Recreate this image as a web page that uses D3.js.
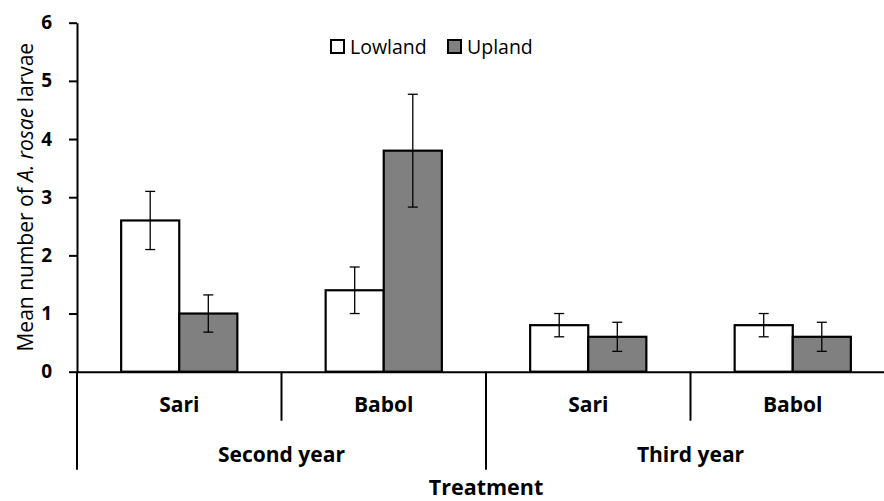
<!DOCTYPE html>
<html>
<head>
<meta charset="utf-8">
<script src="https://cdn.jsdelivr.net/npm/d3@7"></script>
<style>
  body { margin: 0; background: #fff; }
  svg { display: block; font-family: "Open Sans", sans-serif; }
</style>
</head>
<body>
<div id="chart"></div>
<script>
// data
const years = ["Second year", "Third year"];
const sites = ["Sari", "Babol"];
const series = ["Lowland", "Upland"];
const lowlandMean = [2.6, 1.4, 0.8, 0.8];
const lowlandSE = [0.5, 0.4, 0.2, 0.2];
const uplandMean = [1.0, 3.8, 0.6, 0.6];
const uplandSE = [0.32, 0.97, 0.25, 0.25];
const yTicks = [0, 1, 2, 3, 4, 5, 6];
const colors = {Lowland: "#ffffff", Upland: "#808080"};

const W = 884, H = 501;
const plotLeft = 77, plotRight = 895, plotTop = 22.7, base = 371.7;

const svg = d3.select("#chart").append("svg")
  .attr("width", W).attr("height", H);

// one group per year/site pair
const groups = [];
years.forEach(function(yr) {
  sites.forEach(function(s) { groups.push({year: yr, site: s, key: yr + "|" + s}); });
});

const rows = [];
groups.forEach(function(g, i) {
  rows.push({key: g.key, s: "Lowland", v: lowlandMean[i], e: lowlandSE[i]});
  rows.push({key: g.key, s: "Upland", v: uplandMean[i], e: uplandSE[i]});
});

const x0 = d3.scaleBand().domain(groups.map(d => d.key)).range([plotLeft, plotRight]);
const x1 = d3.scaleBand().domain(series).range([0, x0.bandwidth()])
  .paddingInner(0).paddingOuter(0.76);
const y = d3.scaleLinear().domain([0, 6]).range([base, plotTop]);

// y axis
const yAxis = svg.append("g")
  .attr("transform", "translate(" + plotLeft + ",0)")
  .call(d3.axisLeft(y).tickValues(yTicks).tickFormat(d3.format("d"))
    .tickSize(8).tickPadding(17).tickSizeOuter(0));
yAxis.select(".domain").attr("stroke", "#000").attr("stroke-width", 2);
yAxis.selectAll(".tick line").attr("stroke", "#000").attr("stroke-width", 2);
yAxis.selectAll(".tick text")
  .style("font-family", "Open Sans").style("font-size", "19px")
  .style("font-weight", "bold").attr("fill", "#000");

// bars
svg.selectAll("rect.bar")
  .data(rows)
  .join("rect")
  .attr("class", "bar")
  .attr("x", d => x0(d.key) + x1(d.s))
  .attr("y", d => y(d.v))
  .attr("width", x1.bandwidth())
  .attr("height", d => y(0) - y(d.v))
  .attr("fill", d => colors[d.s])
  .attr("stroke", "#000")
  .attr("stroke-width", 2.2);

// error bars
const eb = svg.selectAll("g.err")
  .data(rows)
  .join("g")
  .attr("class", "err")
  .attr("transform", d => "translate(" + (x0(d.key) + x1(d.s) + x1.bandwidth() / 2) + ",0)");
eb.append("line")
  .attr("y1", d => y(d.v + d.e)).attr("y2", d => y(d.v - d.e))
  .attr("stroke", "#000").attr("stroke-width", 1.3);
eb.append("line")
  .attr("x1", -5).attr("x2", 5)
  .attr("y1", d => y(d.v + d.e)).attr("y2", d => y(d.v + d.e))
  .attr("stroke", "#000").attr("stroke-width", 1.3);
eb.append("line")
  .attr("x1", -5).attr("x2", 5)
  .attr("y1", d => y(d.v - d.e)).attr("y2", d => y(d.v - d.e))
  .attr("stroke", "#000").attr("stroke-width", 1.3);

// x axis line
const xAxis = svg.append("g")
  .attr("transform", "translate(0," + base + ")")
  .call(d3.axisBottom(x0).tickSize(0).tickSizeOuter(0).tickFormat(""));
xAxis.select(".domain").attr("stroke", "#000").attr("stroke-width", 2);

// dividers: short between sites, long between years
const shortLen = 49, longLen = 98;
const bounds = groups.map(d => x0(d.key)).concat([plotRight]);
svg.selectAll("line.div")
  .data(bounds)
  .join("line")
  .attr("class", "div")
  .attr("x1", d => d).attr("x2", d => d)
  .attr("y1", base)
  .attr("y2", (d, i) => base + (i % 2 === 0 ? longLen : shortLen))
  .attr("stroke", "#000").attr("stroke-width", 2);

// site labels
svg.selectAll("text.site")
  .data(groups)
  .join("text")
  .attr("class", "site")
  .attr("x", d => x0(d.key) + x0.bandwidth() / 2)
  .attr("y", base + 40)
  .attr("text-anchor", "middle")
  .style("font-size", "21px").style("font-weight", "bold")
  .text(d => d.site);

// year labels
svg.selectAll("text.year")
  .data(years)
  .join("text")
  .attr("class", "year")
  .attr("x", yr => {
    const ks = groups.filter(g => g.year === yr).map(g => g.key);
    return (x0(ks[0]) + x0(ks[ks.length - 1]) + x0.bandwidth()) / 2;
  })
  .attr("y", base + 90)
  .attr("text-anchor", "middle")
  .style("font-size", "21px").style("font-weight", "bold")
  .text(d => d);

// x title
svg.append("text")
  .attr("x", (plotLeft + plotRight) / 2)
  .attr("y", 495)
  .attr("text-anchor", "middle")
  .style("font-size", "21.5px").style("font-weight", "bold")
  .text("Treatment");

// y title
const yt = svg.append("text")
  .attr("transform", "translate(33," + (plotTop + base) / 2 + ") rotate(-90)")
  .attr("text-anchor", "middle")
  .style("font-size", "21px");
yt.append("tspan").text("Mean number of ");
yt.append("tspan").style("font-style", "italic").text("A. rosae");
yt.append("tspan").text(" larvae");

// legend
const legend = svg.append("g").attr("transform", "translate(331,40)");
const li = legend.selectAll("g")
  .data(series)
  .join("g")
  .attr("transform", (d, i) => "translate(" + (i * 117) + ",0)");
li.append("rect")
  .attr("width", 13).attr("height", 13)
  .attr("fill", d => colors[d])
  .attr("stroke", "#000").attr("stroke-width", 2);
li.append("text")
  .attr("x", 19).attr("y", 13.5)
  .style("font-size", "19.5px")
  .text(d => d);
</script>
</body>
</html>
